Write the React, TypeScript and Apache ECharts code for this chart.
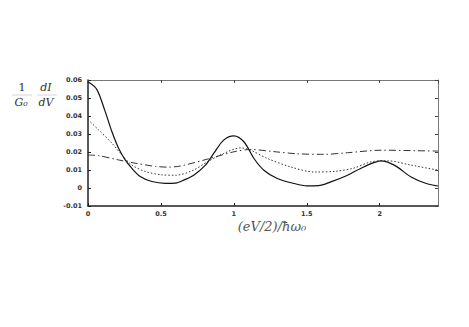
import React, { useEffect, useRef } from "react";
import * as echarts from "echarts";

const solidData: [number, number][] = [
  [0, 0.059], [0.06, 0.0548], [0.117, 0.0427], [0.163, 0.0315], [0.209, 0.0222],
  [0.255, 0.0156], [0.3, 0.011], [0.358, 0.0064], [0.438, 0.0036], [0.53, 0.0026],
  [0.6, 0.0027], [0.66, 0.0045], [0.725, 0.0071], [0.805, 0.0127], [0.862, 0.0192],
  [0.93, 0.0266], [1.0, 0.029], [1.069, 0.0257], [1.138, 0.0164], [1.206, 0.0099],
  [1.298, 0.0053], [1.413, 0.0025], [1.5, 0.0012], [1.58, 0.0013], [1.665, 0.0034],
  [1.78, 0.0071], [1.89, 0.0117], [2.01, 0.0151], [2.1, 0.0127], [2.216, 0.0061],
  [2.31, 0.0028], [2.4, 0.0011],
];

const dottedData: [number, number][] = [
  [0, 0.038], [0.071, 0.0324], [0.163, 0.025], [0.232, 0.0184], [0.3, 0.0128],
  [0.392, 0.0092], [0.507, 0.0073], [0.6, 0.0071], [0.72, 0.0098], [0.817, 0.0145],
  [0.93, 0.0192], [1.046, 0.0223], [1.115, 0.021], [1.23, 0.0164], [1.39, 0.0117],
  [1.55, 0.0089], [1.7, 0.0093], [1.82, 0.011], [1.94, 0.0145], [2.055, 0.0151],
  [2.216, 0.0127], [2.4, 0.0099],
];

const dashDotData: [number, number][] = [
  [0, 0.0183], [0.071, 0.018], [0.209, 0.0156], [0.323, 0.0138], [0.461, 0.012],
  [0.55, 0.0116], [0.633, 0.0122], [0.817, 0.016], [1.0, 0.0201], [1.115, 0.0214],
  [1.275, 0.0202], [1.435, 0.019], [1.62, 0.0187], [1.78, 0.0196], [2.01, 0.021],
  [2.26, 0.0207], [2.4, 0.0205],
];

const xTickLabels: Record<string, string> = { "0": "0", "0.5": "0.5", "1": "1", "1.5": "1.5", "2": "2" };
const yTickLabels: Record<string, string> = {
  "-0.01": "-0.01", "0": "0", "0.01": "0.01", "0.02": "0.02", "0.03": "0.03",
  "0.04": "0.04", "0.05": "0.05", "0.06": "0.06",
};

const xTitle = "(eV/2)/ħω₀";

export default function App() {
  const ref = useRef<HTMLDivElement>(null);
  useEffect(() => {
    document.body.style.margin = "0";
    const chart = echarts.init(ref.current!, null, { renderer: "svg" });
    const labelStyle = {
      fontSize: 6.5,
      fontWeight: "bold" as const,
      color: "#333",
      fontFamily: "DejaVu Sans",
    };
    const fmtX = (v: number) => xTickLabels[String(Math.round(v * 100) / 100)] ?? "";
    const fmtY = (v: number) => yTickLabels[String(Math.round(v * 1000) / 1000)] ?? "";
    chart.setOption({
      animation: false,
      backgroundColor: "#fff",
      grid: { left: 88, right: 31, top: 80, bottom: 121 },
      xAxis: [
        {
          type: "value", min: 0, max: 2.4, interval: 0.5, position: "bottom",
          axisLine: { show: true, onZero: false, lineStyle: { color: "#222", width: 1.5 } },
          axisTick: { show: true, inside: true, length: 3, lineStyle: { color: "#222" } },
          axisLabel: { ...labelStyle, margin: 4, formatter: fmtX, showMaxLabel: false },
          splitLine: { show: false },
        },
        {
          type: "value", min: 0, max: 2.4, interval: 0.5, position: "top",
          axisLine: { show: true, onZero: false, lineStyle: { color: "#777", width: 1 } },
          axisTick: { show: true, inside: true, length: 3, lineStyle: { color: "#444" } },
          axisLabel: { show: false },
          splitLine: { show: false },
        },
      ],
      yAxis: [
        {
          type: "value", min: -0.01, max: 0.06, interval: 0.01, position: "left",
          axisLine: { show: true, onZero: false, lineStyle: { color: "#222", width: 1.5 } },
          axisTick: { show: true, inside: true, length: 3, lineStyle: { color: "#222" } },
          axisLabel: { ...labelStyle, margin: 6, formatter: fmtY },
          splitLine: { show: false },
        },
        {
          type: "value", min: -0.01, max: 0.06, interval: 0.01, position: "right",
          axisLine: { show: true, onZero: false, lineStyle: { color: "#777", width: 1 } },
          axisTick: { show: true, inside: true, length: 3, lineStyle: { color: "#444" } },
          axisLabel: { show: false },
          splitLine: { show: false },
        },
      ],
      series: [
        {
          type: "line", data: solidData, smooth: 0.3, showSymbol: false,
          lineStyle: { color: "#111", width: 1.2, type: "solid" },
        },
        {
          type: "line", data: dottedData, smooth: 0.3, showSymbol: false,
          lineStyle: { color: "#333", width: 1, type: [1.5, 2] },
        },
        {
          type: "line", data: dashDotData, smooth: 0.3, showSymbol: false,
          lineStyle: { color: "#333", width: 1, type: [7, 3, 1.5, 3] },
        },
      ],
      graphic: [
        { type: "text", x: 22, y: 87, style: { text: "1", font: "11px 'DejaVu Serif'", fill: "#333", align: "center", verticalAlign: "middle" } },
        { type: "text", x: 46, y: 87, style: { text: "dI", font: "italic 11px 'DejaVu Serif'", fill: "#333", align: "center", verticalAlign: "middle" } },
        { type: "line", shape: { x1: 12, y1: 95, x2: 32, y2: 95 }, style: { stroke: "#bbb", lineWidth: 0.6 } },
        { type: "line", shape: { x1: 37, y1: 95, x2: 57, y2: 95 }, style: { stroke: "#bbb", lineWidth: 0.6 } },
        { type: "text", x: 21, y: 102, style: { text: "G₀", font: "italic 11px 'DejaVu Serif'", fill: "#333", align: "center", verticalAlign: "middle" } },
        { type: "text", x: 46, y: 102, style: { text: "dV", font: "italic 11px 'DejaVu Serif'", fill: "#333", align: "center", verticalAlign: "middle" } },
        { type: "text", x: 272, y: 226, style: { text: xTitle, font: "italic 13px 'DejaVu Serif'", fill: "#555", align: "center", verticalAlign: "middle" } },
      ],
    });
    return () => chart.dispose();
  }, []);
  return <div ref={ref} style={{ width: 469, height: 327 }} />;
}
